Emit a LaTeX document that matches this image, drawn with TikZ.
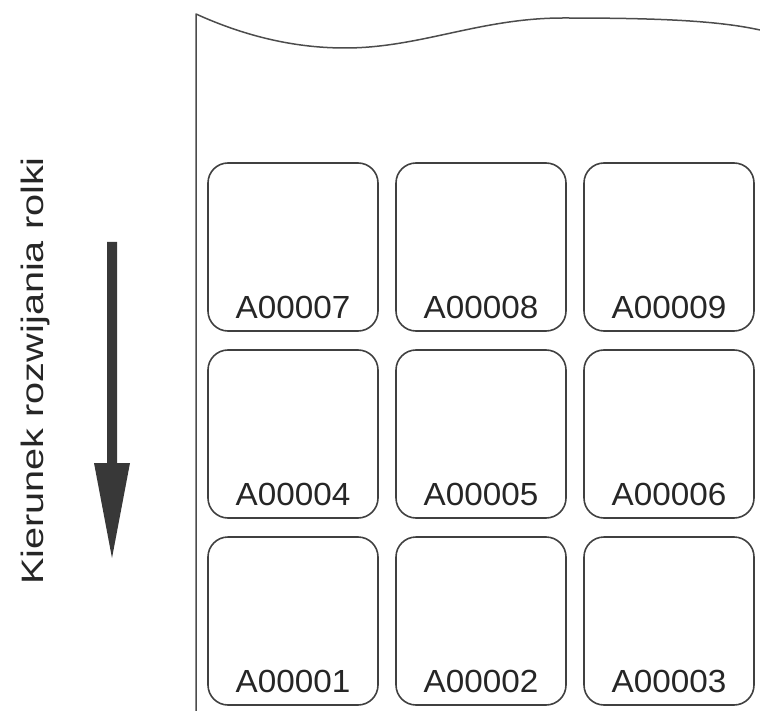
\documentclass[tikz,border=0pt]{standalone}
\usepackage{fontspec}
\setmainfont{Liberation Sans}

\tikzset{
  etyk/.style={draw=black!75, line width=1.6pt, rounded corners=20pt,
    minimum width=170pt, minimum height=168pt, inner sep=0pt},
  numlab/.style={font=\fontsize{32}{32}\selectfont, text=black!85, anchor=base, inner sep=0pt},
  kierlab/.style={font=\fontsize{31}{31}\selectfont, text=black!85, rotate=90, anchor=base, inner sep=0pt},
  papier/.style={draw=black!70, line width=1.5pt}
}

\begin{document}
\begin{tikzpicture}[x=1pt,y=-1pt, line cap=round, line join=round]

\useasboundingbox (0,0) rectangle (760,711);

% brzeg papieru
\coordinate (rogL) at (196,14);
\coordinate (dolL) at (196,711);
\coordinate (dolina) at (345,48);
\coordinate (grzbiet) at (563,18);
\coordinate (rogP) at (760,30);

\draw[papier] (dolL) -- (rogL)
  .. controls (240,34) and (290,48) .. (dolina)
  .. controls (420,48) and (480,18) .. (grzbiet)
  .. controls (650,18) and (715,20) .. (rogP);

% etykiety
\foreach \r/\yc in {0/621,1/434,2/247}
  \foreach \c/\xc in {1/293,2/481,3/669} {
    \pgfmathtruncatemacro\n{3*\r+\c}
    \node[etyk] (et\n) at (\xc,\yc) {};
    \node[numlab] (lab\n) at ([yshift=13pt]et\n.south) {\scalebox{1.04}[1]{A0000\n}};
  }

% strzalka kierunku
\coordinate (strG) at (112,242);
\coordinate (strT) at (112,558);
\fill[black!78] (107,242) -- (117,242) -- (117,463) -- (130,463)
  -- (strT) -- (94,463) -- (107,463) -- cycle;

\node[kierlab] (kier) at (43,371) {\scalebox{1.28}[1]{Kierunek rozwijania rolki}};

\end{tikzpicture}
\end{document}
